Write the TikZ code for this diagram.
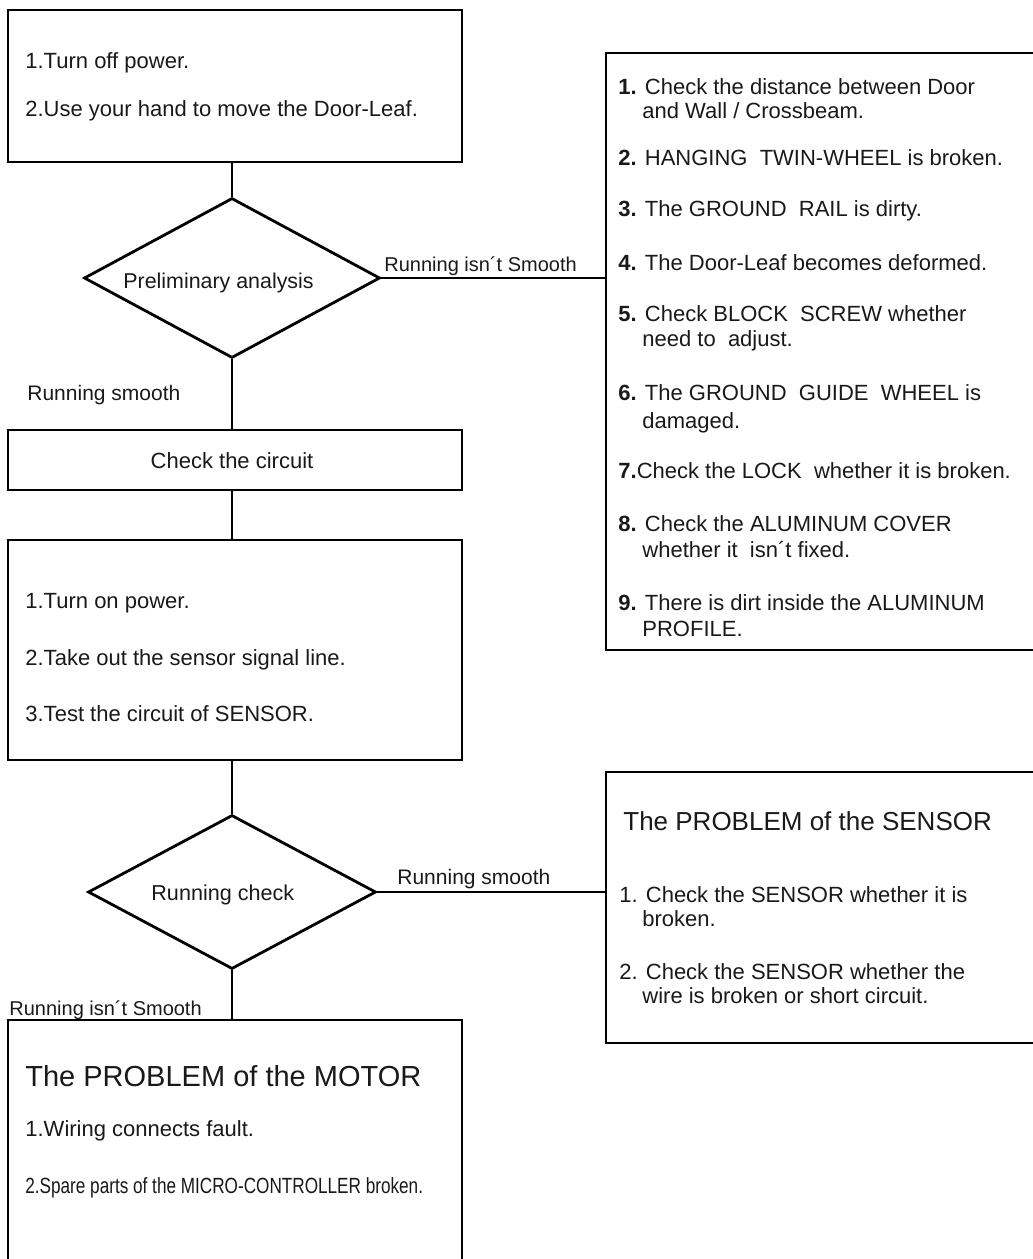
\documentclass[tikz,border=0pt]{standalone}
\usepackage{fontspec}
\setmainfont{Liberation Sans}
\usetikzlibrary{shapes.geometric,calc}
\begin{document}
\begin{tikzpicture}[x=1pt,y=-1pt,line width=2.8pt,
  box/.style={draw, rectangle, inner sep=0pt, line width=2.8pt},
  dia/.style={draw, diamond, inner sep=0pt, line width=2.8pt},
  txt/.style={anchor=base west, inner sep=0pt, text=black!90, font=\fontsize{22}{26}\selectfont},
  lbl/.style={anchor=base west, inner sep=0pt, text=black!90, font=\fontsize{21}{25}\selectfont},
  ttl/.style={anchor=base west, inner sep=0pt, text=black!90},
  conn/.style={draw, line width=2.8pt}]
\useasboundingbox (0,0) rectangle (1033,1259);
\clip (0,0) rectangle (1033,1259);

% boxes
\node[box, minimum width=454pt, minimum height=152pt] (b1) at (235,86) {};
\node[dia, minimum width=296pt, minimum height=160pt] (d1) at (232,278) {};
\node[box, minimum width=454pt, minimum height=60pt] (b2) at (235,460) {};
\node[box, minimum width=454pt, minimum height=220pt] (b3) at (235,650) {};
\node[dia, minimum width=288pt, minimum height=154pt] (d2) at (232,892) {};
\node[box, minimum width=454pt, minimum height=260pt] (mb) at (235,1150) {};
\node[box, minimum width=440pt, minimum height=597pt] (rb) at (826,351.5) {};
\node[box, minimum width=440pt, minimum height=271pt] (sb) at (826,907.5) {};

% connectors
\draw[conn] (b1.south -| d1.north) -- (d1.north);
\draw[conn] (d1.east) -- (d1.east -| rb.west);
\draw[conn] (d1.south) -- (d1.south |- b2.north);
\draw[conn] (b2.south -| d1.south) -- (b3.north -| d1.south);
\draw[conn] (b3.south -| d2.north) -- (d2.north);
\draw[conn] (d2.east) -- (d2.east -| sb.west);
\draw[conn] (d2.south) -- (d2.south |- mb.north);

% box 1
\node[txt] (t11) at (24,68) {1.Turn off power.};
\node[txt] (t12) at (24,116) {2.Use your hand to move the Door-Leaf.};
% diamond 1
\node[txt, font=\fontsize{21.4}{25}\selectfont] (td1) at (122,288) {Preliminary analysis};
\node[lbl, font=\fontsize{20}{24}\selectfont] (l1) at (383,271) {Running isn´t Smooth};
\node[lbl] (l2) at (26,400) {Running smooth};
% box 2
\node[txt, anchor=base] (t2) at (232,468) {Check the circuit};
% box 3
\node[txt] (t31) at (24,608) {1.Turn on power.};
\node[txt] (t32) at (24,665) {2.Take out the sensor signal line.};
\node[txt] (t33) at (24,721) {3.Test the circuit of SENSOR.};
% diamond 2
\node[txt, font=\fontsize{21.6}{25}\selectfont] (td2) at (150,900) {Running check};
\node[lbl] (l3) at (396,884) {Running smooth};
\node[lbl, font=\fontsize{20}{24}\selectfont] (l4) at (8,1015) {Running isn´t Smooth};

% right box 1
\node[txt] (r1a) at (617,94) {\textbf{1.} Check the distance between Door};
\node[txt] (r1b) at (641,118) {and Wall / Crossbeam.};
\node[txt] (r2) at (617,165) {\textbf{2.} HANGING\ \ TWIN-WHEEL is broken.};
\node[txt] (r3) at (617,216) {\textbf{3.} The GROUND\ \ RAIL is dirty.};
\node[txt] (r4) at (617,270) {\textbf{4.} The Door-Leaf becomes deformed.};
\node[txt] (r5a) at (617,321) {\textbf{5.} Check BLOCK\ \ SCREW whether};
\node[txt] (r5b) at (641,346) {need to\ \ adjust.};
\node[txt] (r6a) at (617,400) {\textbf{6.} The GROUND\ \ GUIDE\ \ WHEEL is};
\node[txt] (r6b) at (641,428) {damaged.};
\node[txt] (r7) at (617,478) {\textbf{7.}Check the LOCK\ \ whether it is broken.};
\node[txt] (r8a) at (617,531) {\textbf{8.} Check the ALUMINUM COVER};
\node[txt] (r8b) at (641,557) {whether it\ \ isn´t fixed.};
\node[txt] (r9a) at (617,610) {\textbf{9.} There is dirt inside the ALUMINUM};
\node[txt] (r9b) at (641,636) {PROFILE.};

% sensor box
\node[ttl, font=\fontsize{26}{30}\selectfont] (st) at (622,830) {The PROBLEM of the SENSOR};
\node[txt] (s1a) at (618,902) {1. Check the SENSOR whether it is};
\node[txt] (s1b) at (641,926) {broken.};
\node[txt] (s2a) at (618,979) {2. Check the SENSOR whether the};
\node[txt] (s2b) at (641,1003) {wire is broken or short circuit.};

% motor box
\node[ttl, font=\fontsize{29}{34}\selectfont] (mt) at (24,1086) {The PROBLEM of the MOTOR};
\node[txt] (m1) at (24,1136) {1.Wiring connects fault.};
\node[txt] (m2) at (24,1193) {\scalebox{0.78}[1]{2.Spare parts of the MICRO-CONTROLLER broken.}};
\end{tikzpicture}
\end{document}
